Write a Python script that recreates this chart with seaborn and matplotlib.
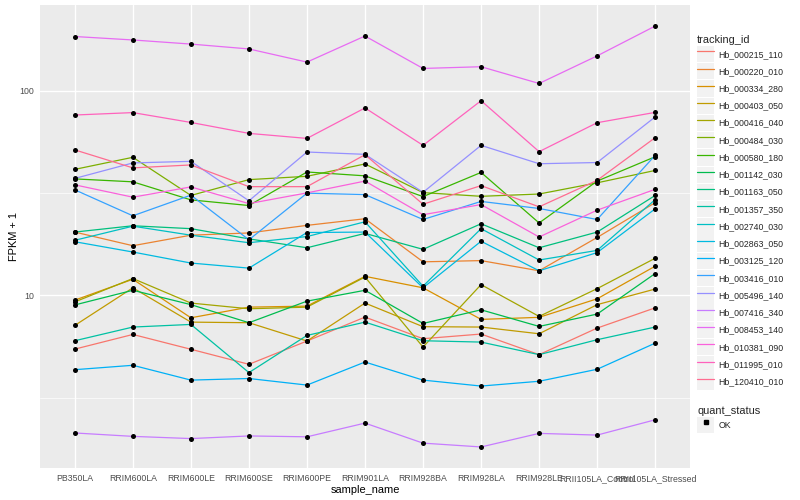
import numpy as np
import pandas as pd
import seaborn as sns
import matplotlib
matplotlib.use("Agg")
import matplotlib.pyplot as plt
from matplotlib.lines import Line2D
from matplotlib.patches import Patch
from matplotlib.legend_handler import HandlerTuple
from matplotlib.ticker import FixedLocator, NullFormatter

# samples on the x axis
samples = ["PB350LA", "RRIM600LA", "RRIM600LE", "RRIM600SE", "RRIM600PE", "RRIM901LA",
           "RRIM928BA", "RRIM928LA", "RRIM928LE", "RRII105LA_Control", "RRII105LA_Stressed"]

# FPKM + 1 per gene
hb_000215_110 = [5.47, 6.45, 5.46, 4.61, 5.99, 7.84, 6.15, 6.48, 5.14, 6.93, 8.7]
hb_000220_010 = [20.4, 17.5, 19.7, 20.2, 22.0, 23.7, 14.6, 14.8, 13.2, 19.2, 28.4]
hb_000334_280 = [9.49, 12.0, 7.78, 8.77, 8.87, 12.4, 10.9, 7.64, 7.82, 9.63, 13.9]
hb_000403_050 = [7.14, 10.9, 7.41, 7.36, 5.99, 9.18, 7.04, 7.01, 6.5, 9.02, 10.75]
hb_000416_040 = [9.3, 12.1, 9.18, 8.61, 8.77, 12.3, 5.6, 11.3, 7.9, 10.8, 15.2]
hb_000484_030 = [41.3, 47.3, 30.8, 36.8, 38.2, 43.9, 31.8, 30.5, 31.3, 35.5, 40.8]
hb_000580_180 = [37.1, 35.9, 29.3, 27.5, 40.1, 38.4, 30.4, 39.9, 22.6, 36.2, 47.6]
hb_001142_030 = [8.99, 10.6, 9.02, 7.36, 9.38, 10.6, 7.3, 8.51, 7.06, 8.11, 12.8]
hb_001163_050 = [20.4, 21.9, 21.2, 18.9, 17.1, 20.1, 16.8, 22.4, 17.1, 20.4, 30.8]
hb_001357_350 = [6.01, 7.01, 7.22, 4.2, 6.38, 7.41, 6.01, 5.92, 5.14, 6.08, 7.01]
hb_002740_030 = [18.6, 21.8, 19.7, 18.1, 19.4, 22.9, 11.1, 21.2, 14.9, 16.6, 29.4]
hb_002863_050 = [18.3, 16.3, 14.4, 13.6, 20.3, 20.4, 10.9, 18.4, 13.2, 16.2, 26.5]
hb_003125_120 = [4.34, 4.56, 3.86, 3.93, 3.65, 4.73, 3.86, 3.61, 3.81, 4.36, 5.85]
hb_003416_010 = [32.8, 24.5, 30.9, 18.7, 31.6, 31.1, 23.5, 28.8, 26.6, 23.5, 48.4]
hb_005496_140 = [37.3, 44.4, 45.2, 29.0, 50.2, 48.9, 31.9, 54.1, 44.0, 44.6, 74.5]
hb_007416_340 = [2.13, 2.05, 2.0, 2.06, 2.04, 2.38, 1.90, 1.82, 2.12, 2.08, 2.47]
hb_008453_140 = [184, 177, 169, 160, 138, 185, 128.5, 131, 108.5, 148, 207]
hb_010381_090 = [34.7, 30.2, 33.9, 28.1, 31.7, 36.2, 24.8, 27.8, 19.3, 26.1, 33.0]
hb_011995_010 = [76.1, 78.2, 70.0, 61.9, 58.5, 82.4, 54.1, 89.4, 50.4, 69.8, 78.4]
hb_120410_010 = [51.4, 42.0, 43.4, 34.0, 34.0, 48.7, 27.9, 34.4, 27.1, 36.5, 59.0]

tracking_ids = ["Hb_000215_110", "Hb_000220_010", "Hb_000334_280", "Hb_000403_050",
                "Hb_000416_040", "Hb_000484_030", "Hb_000580_180", "Hb_001142_030",
                "Hb_001163_050", "Hb_001357_350", "Hb_002740_030", "Hb_002863_050",
                "Hb_003125_120", "Hb_003416_010", "Hb_005496_140", "Hb_007416_340",
                "Hb_008453_140", "Hb_010381_090", "Hb_011995_010", "Hb_120410_010"]
series = [hb_000215_110, hb_000220_010, hb_000334_280, hb_000403_050, hb_000416_040,
          hb_000484_030, hb_000580_180, hb_001142_030, hb_001163_050, hb_001357_350,
          hb_002740_030, hb_002863_050, hb_003125_120, hb_003416_010, hb_005496_140,
          hb_007416_340, hb_008453_140, hb_010381_090, hb_011995_010, hb_120410_010]

# ggplot default hue palette for 20 levels
colors = ["#F8766D", "#EA8331", "#D89000", "#C09B00", "#A3A500", "#7CAE00", "#39B600",
          "#00BB4E", "#00BF7D", "#00C1A3", "#00BFC4", "#00BAE0", "#00B0F6", "#35A2FF",
          "#9590FF", "#C77CFF", "#E76BF3", "#FA62DB", "#FF62BC", "#FF6C91"]
palette = dict(zip(tracking_ids, colors))

rows = []
for tid, vals in zip(tracking_ids, series):
    for s, v in zip(samples, vals):
        rows.append({"tracking_id": tid, "sample_name": s, "FPKM": v, "quant_status": "OK"})
df = pd.DataFrame(rows)
df["x"] = df["sample_name"].map({s: i for i, s in enumerate(samples)})

sns.set_style("white")
plt.rcParams["font.family"] = ["Liberation Sans", "DejaVu Sans"]

fig = plt.figure(figsize=(8, 5), dpi=100)
ax = fig.add_axes([40 / 800, 32 / 500, 650 / 800, 463 / 500])
ax.set_facecolor("#EBEBEB")

sns.lineplot(data=df, x="x", y="FPKM", hue="tracking_id", palette=palette,
             units="tracking_id", estimator=None, sort=False, linewidth=0.9,
             legend=False, ax=ax, zorder=3)
sns.scatterplot(data=df, x="x", y="FPKM", color="black", s=13, marker="o",
                linewidth=0, legend=False, ax=ax, zorder=4)

ax.set_yscale("log")
lo, hi = np.log10(df["FPKM"].min()), np.log10(df["FPKM"].max())
pad = (hi - lo) * 0.05
ax.set_ylim(10 ** (lo - pad), 10 ** (hi + pad))
ax.set_xlim(-0.6, len(samples) - 0.4)

ax.yaxis.set_major_locator(FixedLocator([10, 100]))
ax.yaxis.set_minor_locator(FixedLocator([10 ** 0.5, 10 ** 1.5, 10 ** 2.5]))
ax.yaxis.set_minor_formatter(NullFormatter())
ax.set_yticklabels(["10", "100"])
ax.set_xticks(range(len(samples)))
ax.set_xticklabels(samples)

ax.grid(True, which="major", color="white", linewidth=1.0)
ax.grid(True, which="minor", axis="y", color="white", linewidth=0.5)
ax.set_axisbelow(True)
for sp in ax.spines.values():
    sp.set_visible(False)
ax.tick_params(axis="both", which="major", length=2.5, width=0.8, color="#333333",
               labelsize=6.3, labelcolor="#4D4D4D", pad=2)
ax.tick_params(axis="y", which="minor", length=0)

ax.set_xlabel("sample_name", fontsize=7.9, color="black", labelpad=1.5)
ax.set_ylabel("FPKM + 1", fontsize=7.9, color="black", labelpad=0)

# legends
hmap = {tuple: HandlerTuple(ndivide=1, pad=0)}
handles = [(Patch(facecolor="#F2F2F2", edgecolor="none"), Line2D([], [], color=c, lw=0.9))
           for c in colors]
leg1 = fig.legend(handles, tracking_ids, loc="upper left",
                  bbox_to_anchor=(697 / 800, 1 - 35 / 500), frameon=False,
                  title="tracking_id", title_fontsize=7.9, fontsize=6.3,
                  handler_map=hmap, handlelength=1.95, handleheight=2.5,
                  labelspacing=0.1, handletextpad=0.5, borderpad=0,
                  borderaxespad=0, alignment="left")

h2 = [(Patch(facecolor="#F2F2F2", edgecolor="none"),
       Line2D([], [], color="black", marker="s", markersize=2.5, lw=0))]
leg2 = fig.legend(h2, ["OK"], loc="upper left",
                  bbox_to_anchor=(697 / 800, 1 - 406 / 500), frameon=False,
                  title="quant_status", title_fontsize=7.9, fontsize=6.3,
                  handler_map=hmap, handlelength=1.95, handleheight=2.5,
                  labelspacing=0.1, handletextpad=0.5, borderpad=0,
                  borderaxespad=0, alignment="left")

fig.savefig("out.png", dpi=100)
